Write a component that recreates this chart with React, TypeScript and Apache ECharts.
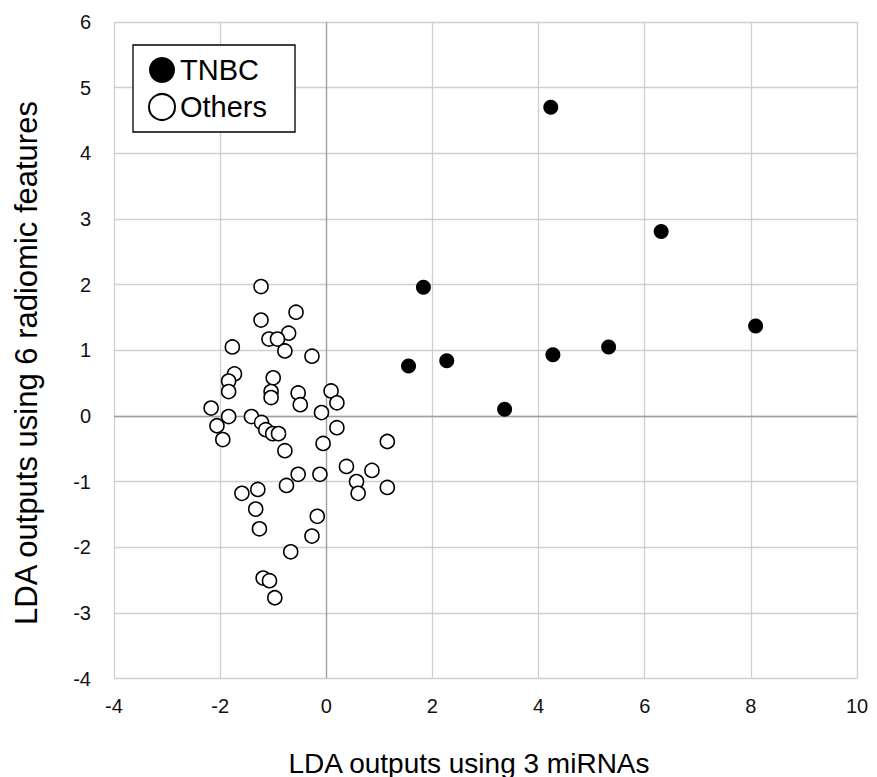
import React, { useEffect, useRef } from "react";
import * as echarts from "echarts";

const xTicks = [-4, -2, 0, 2, 4, 6, 8, 10];
const yTicks = [-4, -3, -2, -1, 0, 1, 2, 3, 4, 5, 6];

const tnbcPoints: [number, number][] = [
  [4.23, 4.7], [6.31, 2.81], [1.83, 1.96], [8.09, 1.37], [5.32, 1.05],
  [4.27, 0.93], [2.27, 0.84], [1.55, 0.76], [3.36, 0.1],
];

const otherPoints: [number, number][] = [
  [-1.23, 1.97], [-0.57, 1.58], [-1.23, 1.46], [-0.71, 1.26], [-1.08, 1.17],
  [-0.92, 1.17], [-0.78, 0.99], [-1.77, 1.05], [-0.27, 0.91],
  [-1.73, 0.64], [-1.84, 0.53], [-1.84, 0.37], [-1.0, 0.58], [-1.04, 0.37],
  [-1.04, 0.28], [-0.53, 0.35], [-0.49, 0.17], [0.09, 0.38], [0.2, 0.2], [-0.09, 0.05],
  [-2.17, 0.12], [-1.84, -0.01], [-1.41, -0.01], [-1.22, -0.1], [-1.14, -0.21],
  [-1.01, -0.27], [-0.9, -0.27], [-2.06, -0.15], [-1.95, -0.36], [-0.78, -0.53],
  [0.2, -0.18], [-0.06, -0.42], [1.15, -0.39],
  [0.38, -0.77], [0.86, -0.83], [0.57, -1.0], [0.6, -1.18], [1.15, -1.09],
  [-0.53, -0.89], [-0.12, -0.89], [-0.75, -1.06], [-1.29, -1.12], [-1.59, -1.18],
  [-1.33, -1.42], [-1.26, -1.72], [-0.17, -1.53], [-0.27, -1.83], [-0.67, -2.07],
  [-1.19, -2.47], [-1.07, -2.51], [-0.97, -2.77],
];

const seriesNames = ["TNBC", "Others"];
const xTitle = "LDA outputs using 3 miRNAs";
const yTitle = "LDA outputs using 6 radiomic features";

const FONT = "'Liberation Sans', Arial, sans-serif";

export default function App() {
  const ref = useRef<HTMLDivElement>(null);

  useEffect(() => {
    document.body.style.margin = "0";
    if (!ref.current) return;
    const chart = echarts.init(ref.current, undefined, { renderer: "svg" });
    chart.setOption({
      animation: false,
      backgroundColor: "#fff",
      grid: { left: 114, right: 20, top: 22, bottom: 98.5, containLabel: false },
      xAxis: {
        type: "value",
        min: xTicks[0],
        max: xTicks[xTicks.length - 1],
        interval: 2,
        axisLine: { show: false },
        axisTick: { show: false },
        axisLabel: { fontSize: 20, color: "#111", fontFamily: FONT, margin: 17 },
        splitLine: { show: true, lineStyle: { color: "#cfcfcf", width: 1.3 } },
      },
      yAxis: {
        type: "value",
        min: yTicks[0],
        max: yTicks[yTicks.length - 1],
        interval: 1,
        axisLine: { show: false },
        axisTick: { show: false },
        axisLabel: { fontSize: 20, color: "#111", fontFamily: FONT, margin: 23 },
        splitLine: { show: true, lineStyle: { color: "#cfcfcf", width: 1.3 } },
      },
      legend: {
        orient: "vertical",
        left: 133,
        top: 45,
        data: seriesNames,
        icon: "circle",
        itemWidth: 26,
        itemHeight: 26,
        itemGap: 7,
        itemTextGap: 15,
        padding: [10, 28, 10, 15],
        borderColor: "#000",
        borderWidth: 1.3,
        backgroundColor: "#fff",
        textStyle: { fontSize: 29, fontFamily: FONT, color: "#000", lineHeight: 30 },
      },
      graphic: [
        {
          type: "text",
          x: 469,
          y: 763,
          style: {
            text: xTitle,
            font: `28px ${FONT}`,
            fill: "#000",
            textAlign: "center",
            textVerticalAlign: "middle",
          },
        },
        {
          type: "text",
          x: 26,
          y: 363,
          rotation: Math.PI / 2,
          style: {
            text: yTitle,
            font: `31px ${FONT}`,
            fill: "#000",
            textAlign: "center",
            textVerticalAlign: "middle",
          },
        },
      ],
      series: [
        {
          name: seriesNames[1],
          type: "scatter",
          data: otherPoints,
          symbol: "circle",
          symbolSize: 14,
          itemStyle: { color: "#fff", borderColor: "#000", borderWidth: 1.6, opacity: 1 },
          z: 3,
          markLine: {
            silent: true,
            symbol: "none",
            z: 1,
            label: { show: false },
            lineStyle: { color: "#a0a0a0", type: "solid", width: 1.3 },
            data: [{ xAxis: 0 }, { yAxis: 0 }],
          },
        },
        {
          name: seriesNames[0],
          type: "scatter",
          data: tnbcPoints,
          symbol: "circle",
          symbolSize: 15,
          itemStyle: { color: "#000", opacity: 1 },
          z: 4,
        },
      ],
    });
    return () => chart.dispose();
  }, []);

  return <div ref={ref} style={{ width: 877, height: 777 }} />;
}
